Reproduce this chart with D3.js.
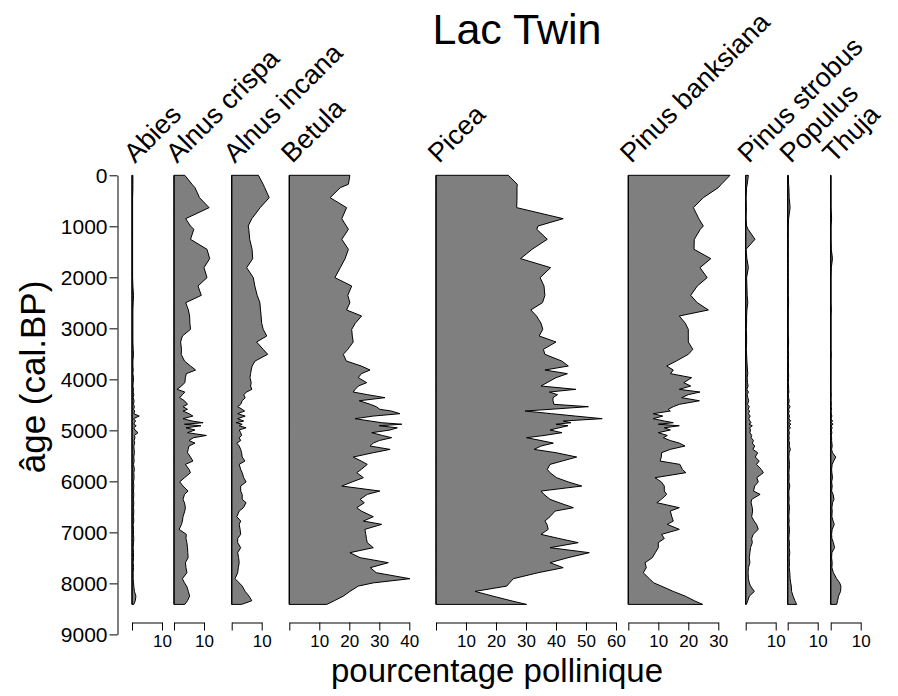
<!DOCTYPE html>
<html>
<head>
<meta charset="utf-8">
<script src="https://cdn.jsdelivr.net/npm/d3@7"></script>
<style>
  html, body { margin: 0; padding: 0; background: #fff; }
  svg { display: block; }
  text { font-family: "Liberation Sans", Arial, Helvetica, sans-serif; fill: #000; }
</style>
</head>
<body>
<script>
// Sample ages (cal. BP) of the core levels
const ages = [0,176,242,438,634,850,994,1059,1255,1451,
  1634,1810,2006,2170,2353,2497,2640,2758,2900,3020,
  3150,3268,3412,3510,3641,3739,3817,3889,3967,4065,
  4131,4196,4249,4300,4359,4420,4490,4536,4588,4621,
  4673,4720,4771,4817,4850,4880,4910,4950,4993,5046,
  5100,5144,5200,5250,5307,5373,5438,5523,5602,5667,
  5765,5830,5928,6010,6092,6190,6255,6353,6418,6516,
  6582,6693,6778,6843,6941,7039,7120,7202,7300,7398,
  7496,7594,7692,7791,7908,7990,8053,8157,8250,8340,
  8412];

// Pollen percentages per taxon, one value per level
const abies = [0.3,0.3,0.3,0.2,0.2,0.2,0.2,0.2,0.2,0.2,
  0.2,0.2,0.2,0.3,0.5,0.4,0.3,0.3,0.3,0.3,
  0.3,0.3,0.4,0.5,0.3,0.3,0.4,0.3,0.5,0.4,
  0.3,0.5,0.4,0.6,0.4,0.7,0.5,0.8,0.5,0.9,
  0.6,2.4,0.5,1.2,0.8,0.6,1.4,0.6,1.0,2.0,
  0.8,1.0,0.7,0.9,0.6,0.7,0.8,0.6,0.7,0.5,
  0.8,0.6,0.7,0.5,0.6,0.5,0.6,0.5,0.6,0.5,
  0.6,0.5,0.6,0.4,0.5,0.5,0.6,0.5,0.4,0.5,
  0.5,0.4,0.5,0.4,0.4,0.5,0.6,0.8,1.3,1.1,
  0.6];

const alnusCrispa = [3.6,6,7,8.5,11.7,3.9,5.5,6.6,5.5,11,
  11.9,10,11,8,9.1,3.9,4.8,5.2,5.3,5.5,
  2.8,2.2,2.5,2.4,3.5,5.5,7.2,4.1,3.8,3.6,
  2.5,1,3.6,2.8,1.9,3.5,4.5,3,4.5,3,
  5,6.3,3,6,9.7,3.5,9,4,7,4.5,
  10.8,6.5,5,7,5,4.7,4.5,5.5,6.3,3.8,
  5,5.5,3.5,1.9,3,4.7,3.5,3,3.5,3.8,
  3.6,3,2.8,2.5,1.7,4.1,4,4.3,4.5,4.6,
  4.7,3.8,4,4.3,2.8,3.5,4.2,4.8,5.2,4.5,
  3.6];

const alnusIncana = [8.9,10.5,11,12.5,9.5,6.7,5.5,5.7,6,6.8,
  7,5,7.2,7.7,8.5,9.4,9.6,9.8,10,10.5,
  11.7,8.3,10.5,12,7.8,6.8,6.5,6.3,6.1,6.5,
  6.3,6.7,5,4,4.5,3.5,3,2,3.5,4.3,
  2,4.5,2,4,1.5,3.5,2.5,4.8,2.5,3,
  3.3,2.5,3,1.7,2.5,3,3.3,3.5,4.4,2.5,
  3,3.5,4,4.8,3,3,3.5,3.5,4.8,3.9,
  2.5,1.7,3,2.5,2.8,3,2,2,3,2,
  2.3,2.5,2.2,2,1.1,2.5,3.5,4.5,5.8,6.7,
  3.3];

const betula = [20.2,19.7,17,13.6,19.1,17.5,19,19.7,17.5,19.7,
  18.6,17,15.2,20.8,19.5,20.2,19.1,24.1,22,20.8,
  21,21.3,19.5,18,19,24,26.9,24,23,25.8,
  23,22,21.3,26,31.9,23.3,27,29,30.2,34,
  36.9,28,21.9,27,30.8,37.5,30,36,33.6,27.5,
  31,34.1,30,28,26.9,33.6,28,21.3,24,26,
  24,22.5,24.7,21,17.5,30.2,26,23.6,25,22.5,
  24,28,24.7,30.8,25.2,25.5,25.7,26,28,20.2,
  23.6,33,27,29,40.2,28,23,20.2,18,15,
  12.5];

const picea = [24.1,27.1,27,27,26.9,42.4,34,33.6,37.1,32,
  28.2,38.2,34.7,36,36.3,35.5,31.6,33.5,35,35.6,
  34.4,40,35.8,36.3,41.9,44.1,36.3,43.8,40,37,
  35,46.6,37.8,40.5,39,39,39.3,50.8,38,29.7,
  38.5,46.5,55.4,42.4,45,40,44,41,38,42,
  36,30.2,35,39.1,35,32.7,40,46.9,42,38,
  37.1,38,40.2,44,48.6,35,36,38,41,45.8,
  39.7,38,36.3,37,37.4,35,41,47.4,38,51.1,
  44,38,42.4,34,25.8,24.5,23.6,13,19,25,
  30.2];

const pinusBanksiana = [33.9,31,30,25,21.7,23.5,25,24,22,21.9,
  27.5,23.9,26.3,23,20.8,23,26.7,17,19,20,
  20,20,21.5,20,16,12.8,15,14.1,21.1,18.5,
  20.8,17,23.9,20,17.8,23.7,17,15,13.3,14,
  8.3,11.5,8.3,12,15,10,17,12,14,10,
  13,11.7,14,17,18.9,14,11.1,11,10.6,17.2,
  18,19.2,8.9,11,12,12,12.8,11,9.5,17,
  14,14.5,15,13,17,11.1,12,10,10,9,
  8,5.6,6,5,7,8.5,11,15,19,22,
  24.8];

const pinusStrobus = [0.9,0.5,0.3,0.1,0.2,0.1,0.3,0.8,3.1,0.1,
  0.4,0.9,0.3,0.4,0.5,0.7,0.4,0.3,0.3,0.2,
  0.3,0.3,0.2,0.3,0.4,0.5,0.6,0.7,0.5,0.6,
  0.8,0.4,0.9,0.5,0.7,1.0,0.6,1.2,0.8,1.3,
  0.9,1.5,1.0,1.4,1.8,1.1,2.2,1.3,1.6,1.4,
  2.0,1.8,2.6,2.2,3.0,2.4,4.0,3.2,4.5,3.6,
  5.2,5.9,3.7,4.2,3.0,2.6,4.8,2.0,1.8,2.2,
  2.3,2.0,2.8,3.6,4.2,2.5,2.0,2.2,1.6,1.4,
  1.2,1.4,0.9,0.8,0.9,1.2,1.6,2.9,1.2,0.7,
  0.2];

const populus = [0.2,0.3,0.4,0.5,0.8,0.3,0.2,0.2,0.2,0.2,
  0.2,0.2,0.2,0.2,0.2,0.3,0.2,0.2,0.2,0.2,
  0.2,0.3,0.2,0.3,0.2,0.3,0.2,0.3,0.3,0.2,
  0.3,0.3,0.4,0.2,0.3,0.5,0.3,0.8,0.3,0.5,
  0.3,0.6,0.4,1.0,0.3,1.1,0.4,0.9,0.3,0.6,
  0.4,0.5,0.4,0.6,0.5,0.9,0.5,0.4,0.5,0.6,
  0.5,0.4,0.5,0.4,0.7,0.4,0.4,0.5,0.4,0.6,
  0.5,0.4,0.5,0.4,0.6,0.5,0.4,0.6,0.5,0.7,
  0.5,0.6,0.5,0.7,0.8,1.0,1.2,1.3,1.8,2.4,
  3.0];

const thuja = [0.1,0.1,0.1,0.1,0.1,0.3,0.1,0.1,0.1,0.2,
  0.6,0.2,0.1,0.1,0.1,0.1,0.2,0.1,0.1,0.1,
  0.1,0.1,0.1,0.2,0.1,0.1,0.1,0.1,0.1,0.1,
  0.1,0.1,0.1,0.2,0.1,0.1,0.2,0.1,0.3,0.1,
  0.2,0.4,0.1,0.6,0.2,0.8,0.1,0.5,0.2,0.4,
  0.2,0.3,0.3,0.4,0.5,0.3,0.6,1.7,1.0,0.5,
  0.3,0.4,0.6,0.3,0.5,0.3,0.8,1.1,0.6,0.4,
  0.5,0.4,0.8,1.2,0.5,0.3,0.4,0.9,1.3,0.4,
  0.3,0.5,0.4,0.9,2.0,3.0,3.4,3.3,2.6,2.3,
  2.0];

const taxa = ["Abies", "Alnus crispa", "Alnus incana", "Betula", "Picea",
  "Pinus banksiana", "Pinus strobus", "Populus", "Thuja"];
const series = [abies, alnusCrispa, alnusIncana, betula, picea,
  pinusBanksiana, pinusStrobus, populus, thuja];

// Upper end of each percentage axis (ticks every 10 %)
const axisMax = [10, 10, 10, 40, 60, 30, 10, 10, 10];
// Age axis ticks
const ageTicks = [0,1000,2000,3000,4000,5000,6000,7000,8000,9000];

// ---- layout ----
const W = 898, H = 696;
const pxPerPct = 3;                       // same horizontal scale in every panel
const panelLeft = [132, 174, 231.7, 289.3, 436, 628.3, 745.7, 787.7, 830.7];
const yAxisX = 117.5;
const xAxisY = 622.5;

const svg = d3.select("body").append("svg")
  .attr("width", W).attr("height", H);

const y = d3.scaleLinear().domain([0, 9000]).range([175.3, 634.4]);

// Title
svg.append("text")
  .attr("x", 517).attr("y", 44)
  .attr("text-anchor", "middle")
  .style("font-size", "43px")
  .text("Lac Twin");

// Age axis
const yAxis = svg.append("g")
  .attr("transform", `translate(${yAxisX},0)`)
  .call(d3.axisLeft(y).tickValues(ageTicks).tickSize(8).tickSizeOuter(0).tickPadding(2)
    .tickFormat(d3.format("d")));
yAxis.selectAll("text").style("font-size", "21px");
yAxis.selectAll("path, line").attr("stroke", "#000").attr("stroke-width", 1);

svg.append("text")
  .attr("transform", "translate(45,377) rotate(-90)")
  .attr("text-anchor", "middle")
  .style("font-size", "35px")
  .text("âge (cal.BP)");

// One panel per taxon
taxa.forEach((name, i) => {
  const vals = series[i];
  const left = panelLeft[i];
  const x = d3.scaleLinear()
    .domain([0, axisMax[i]])
    .range([left, left + pxPerPct * axisMax[i]]);

  const area = d3.area()
    .x0(x(0))
    .x1((d, j) => x(vals[j]))
    .y((d, j) => y(ages[j]));

  svg.append("path")
    .datum(ages)
    .attr("d", area)
    .attr("fill", "#7f7f7f")
    .attr("stroke", "#000")
    .attr("stroke-width", 1)
    .attr("stroke-linejoin", "miter");

  // baseline of the panel
  svg.append("line")
    .attr("x1", x(0)).attr("x2", x(0))
    .attr("y1", y(ages[0])).attr("y2", y(ages[ages.length - 1]))
    .attr("stroke", "#000").attr("stroke-width", 1.2);

  const ax = svg.append("g")
    .attr("transform", `translate(0,${xAxisY})`)
    .call(d3.axisBottom(x)
      .tickValues(d3.range(0, axisMax[i] + 1, 10))
      .tickSize(8).tickSizeOuter(0).tickPadding(4)
      .tickFormat(d => d === 0 ? "" : d));
  ax.selectAll("text").style("font-size", "17px");
  ax.selectAll("path, line").attr("stroke", "#000").attr("stroke-width", 1);

  svg.append("text")
    .attr("transform", `translate(${left + 3},164) rotate(-45)`)
    .style("font-size", "27px")
    .text(name);
});

// Horizontal axis title
svg.append("text")
  .attr("x", 497).attr("y", 682)
  .attr("text-anchor", "middle")
  .style("font-size", "33px")
  .text("pourcentage pollinique");
</script>
</body>
</html>
